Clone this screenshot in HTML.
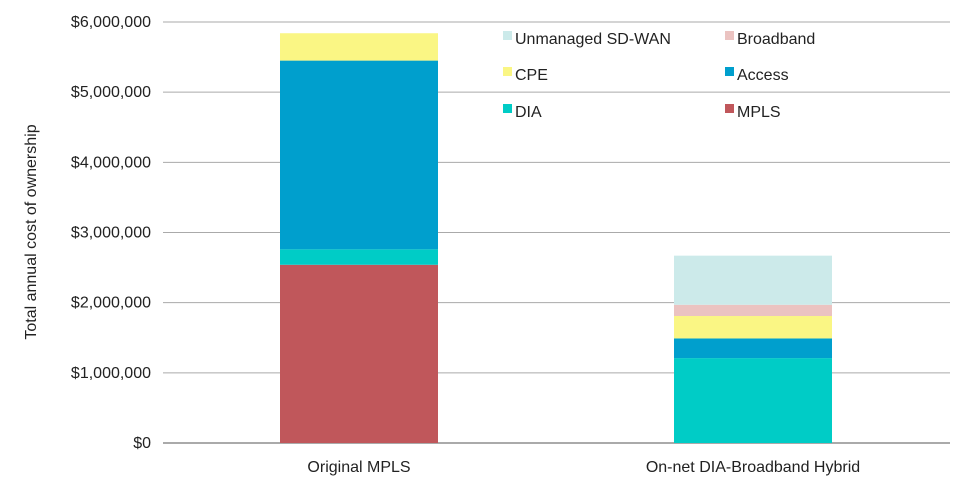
<!DOCTYPE html>
<html><head><meta charset="utf-8"><style>
body{margin:0;background:#fff;font-family:"Liberation Sans",Helvetica,sans-serif}
svg text{font-family:"Liberation Sans",Helvetica,sans-serif;fill:#222}
</style></head><body>
<svg id="chart" width="975" height="485" xmlns="http://www.w3.org/2000/svg">
<g id="grid"></g><g id="bars"></g><g id="legend"></g>
<text transform="translate(36,232) rotate(-90)" text-anchor="middle" font-size="16">Total annual cost of ownership</text>
</svg>
<script>
const categories = ["Original MPLS", "On-net DIA-Broadband Hybrid"];
const seriesNames = ["MPLS", "DIA", "Access", "CPE", "Broadband", "Unmanaged SD-WAN"];
const mpls = [2540000, 0];
const dia = [220000, 1210000];
const access = [2690000, 280000];
const cpe = [390000, 320000];
const broadband = [0, 160000];
const sdwan = [0, 700000];
const yTicks = [0, 1000000, 2000000, 3000000, 4000000, 5000000, 6000000];
const tickLabels = ["$0", "$1,000,000", "$2,000,000", "$3,000,000", "$4,000,000", "$5,000,000", "$6,000,000"];
const colors = ["#c0575b", "#00ccc6", "#009fcd", "#faf684", "#ebc3c1", "#cceaea"];
const ns = "http://www.w3.org/2000/svg";
const y0 = 443, y1 = 22, left = 163, right = 950;
const y = v => y0 - (v / 6000000) * (y0 - y1);
const xCenter = i => 359 + i * 394;
const barW = 158;
function mk(tag, attrs, parent){const e=document.createElementNS(ns,tag);for(const k in attrs)e.setAttribute(k,attrs[k]);parent.appendChild(e);return e;}
const grid = document.getElementById('grid');
yTicks.forEach((t, i) => {
  const l = mk('line', {x1:left, x2:right, y1:y(t), y2:y(t), stroke: i===0?'#555':'#aaa', 'stroke-width':1}, grid);
  
  
  const tx = mk('text', {x:151, y:y(t)+5, 'text-anchor':'end', 'font-size':16}, grid);
  tx.textContent = tickLabels[i];
  
  
});
const series = [mpls, dia, access, cpe, broadband, sdwan];
const bars = document.getElementById('bars');
categories.forEach((c, i) => {
  let acc = 0;
  series.forEach((s, k) => {
    const v = s[i]; if (!v) return;
    const r = mk('rect', {x:xCenter(i)-barW/2, y:y(acc+v), width:barW, height:y(acc)-y(acc+v), fill:colors[k]}, bars);
    
    
    acc += v;
  });
  const t = mk('text', {x:xCenter(i), y:472, 'text-anchor':'middle', 'font-size':16}, bars);
  t.textContent = c;
  
  
});
const legend = document.getElementById('legend');
const legendOrder = [[5,503,38],[4,725,38],[3,503,74],[2,725,74],[1,503,111],[0,725,111]];
legendOrder.forEach(([k, lx, ly]) => {
  const r = mk('rect', {x:lx, y:ly-7, width:9, height:9, fill:colors[k]}, legend);
  
  
  const t = mk('text', {x:lx+12, y:ly+6, 'font-size':16}, legend);
  t.textContent = seriesNames[k];
  
  
});
</script>
</body></html>
